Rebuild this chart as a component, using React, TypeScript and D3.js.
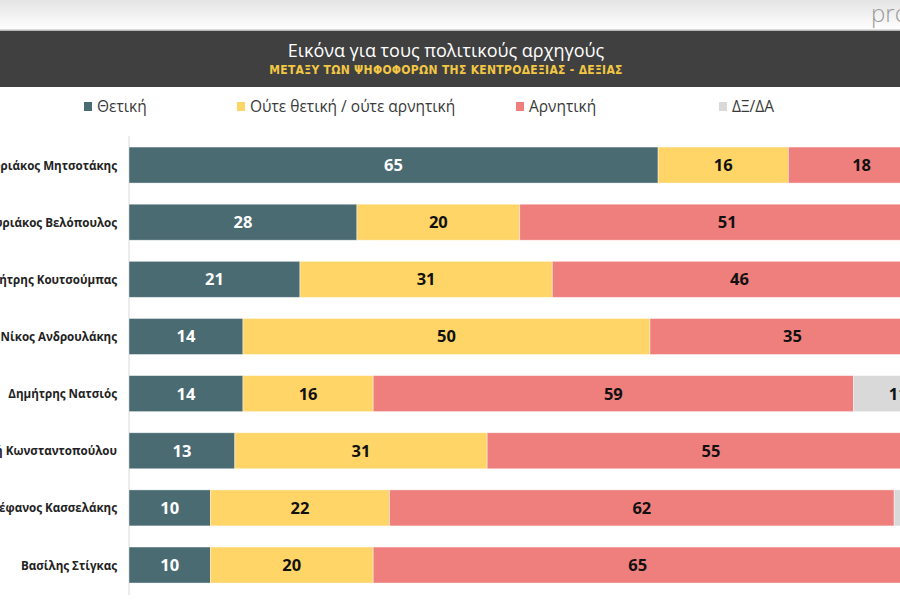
import React from "react";
import * as d3 from "d3";

const categories = [
  "Κυριάκος Μητσοτάκης",
  "Κυριάκος Βελόπουλος",
  "Δημήτρης Κουτσούμπας",
  "Νίκος Ανδρουλάκης",
  "Δημήτρης Νατσιός",
  "Ζωή Κωνσταντοπούλου",
  "Στέφανος Κασσελάκης",
  "Βασίλης Στίγκας",
];
const positive = [65, 28, 21, 14, 14, 13, 10, 10];
const neutral = [16, 20, 31, 50, 16, 31, 22, 20];
const negative = [18, 51, 46, 35, 59, 55, 62, 65];
const dkna = [1, 1, 2, 1, 11, 1, 6, 5];

const seriesNames = ["Θετική", "Ούτε θετική / ούτε αρνητική", "Αρνητική", "ΔΞ/ΔΑ"];
const seriesColors = ["#4a6b72", "#fed566", "#ee7f7d", "#d9d9d9"];
const labelColors = ["#ffffff", "#111111", "#111111", "#111111"];
const legendX = [84, 237, 516, 719];

const title = "Εικόνα για τους πολιτικούς αρχηγούς";
const subtitle = "ΜΕΤΑΞΥ ΤΩΝ ΨΗΦΟΦΟΡΩΝ ΤΗΣ ΚΕΝΤΡΟΔΕΞΙΑΣ - ΔΕΞΙΑΣ";

export default function App() {
  const W = 900, H = 600;
  const x = d3.scaleLinear().domain([0, 100]).range([129, 129 + 814]);
  const y = d3.scaleBand<string>().domain(categories).range([136.5, 593.6]).paddingInner(0.37).paddingOuter(0.185);
  const data = [positive, neutral, negative, dkna];
  const font = "'Open Sans', 'DejaVu Sans', sans-serif";

  return (
    <div style={{ position: "absolute", left: 0, top: 0, width: W, height: H, overflow: "hidden" }}>
      <svg width={W} height={H} style={{ display: "block" }} fontFamily={font}>
        <defs>
          <linearGradient id="topg" x1="0" y1="0" x2="0" y2="1">
            <stop offset="0" stopColor="#e4e4e4" />
            <stop offset="1" stopColor="#ffffff" />
          </linearGradient>
        </defs>
        <rect x={0} y={0} width={W} height={H} fill="#ffffff" />
        <rect x={0} y={0} width={W} height={30} fill="url(#topg)" />
        <text x={871} y={22} fontSize={24} fill="#9a9a9a" fontFamily="'Open Sans', sans-serif" fontWeight={300}>proto</text>
        <rect x={0} y={29.5} width={W} height={1.5} fill="#b8b8b8" />
        <rect x={0} y={31} width={W} height={56} fill="#404040" />
        <text x={446} y={56.5} textAnchor="middle" fontSize={18} fill="#ffffff">{title}</text>
        <text x={446} y={74} textAnchor="middle" fontSize={12} fontWeight={700} fill="#f2c744" fontFamily="'Liberation Sans Narrow', 'DejaVu Sans Condensed', sans-serif" letterSpacing={0.3}>{subtitle}</text>

        {seriesNames.map((s, i) => (
          <g key={s}>
            <rect x={legendX[i]} y={102} width={8} height={9} fill={seriesColors[i]} />
            <text x={legendX[i] + 13} y={112} fontSize={15.5} fill="#3a3a3a">{s}</text>
          </g>
        ))}

        <line x1={129} x2={129} y1={136} y2={595} stroke="#d9d9d9" strokeWidth={1} />

        {categories.map((c, ci) => {
          let acc = 0;
          const y0 = y(c)!;
          const bh = y.bandwidth();
          return (
            <g key={c}>
              <text x={117} y={y0 + bh / 2 + 4.5} textAnchor="end" fontSize={11.6} fontWeight={700} fill="#222222">{c}</text>
              {data.map((arr, si) => {
                const v = arr[ci];
                const x0 = x(acc);
                acc += v;
                const x1 = x(acc);
                return (
                  <g key={si}>
                    <rect x={x0} y={y0} width={x1 - x0} height={bh} fill={seriesColors[si]} stroke="#ffffff" strokeOpacity={0.5} strokeWidth={0.8} />
                    <text x={(x0 + x1) / 2} y={y0 + bh / 2 + 6} textAnchor="middle" fontSize={16.5} fontWeight={700} fill={labelColors[si]}>{v}</text>
                  </g>
                );
              })}
            </g>
          );
        })}
      </svg>
    </div>
  );
}
